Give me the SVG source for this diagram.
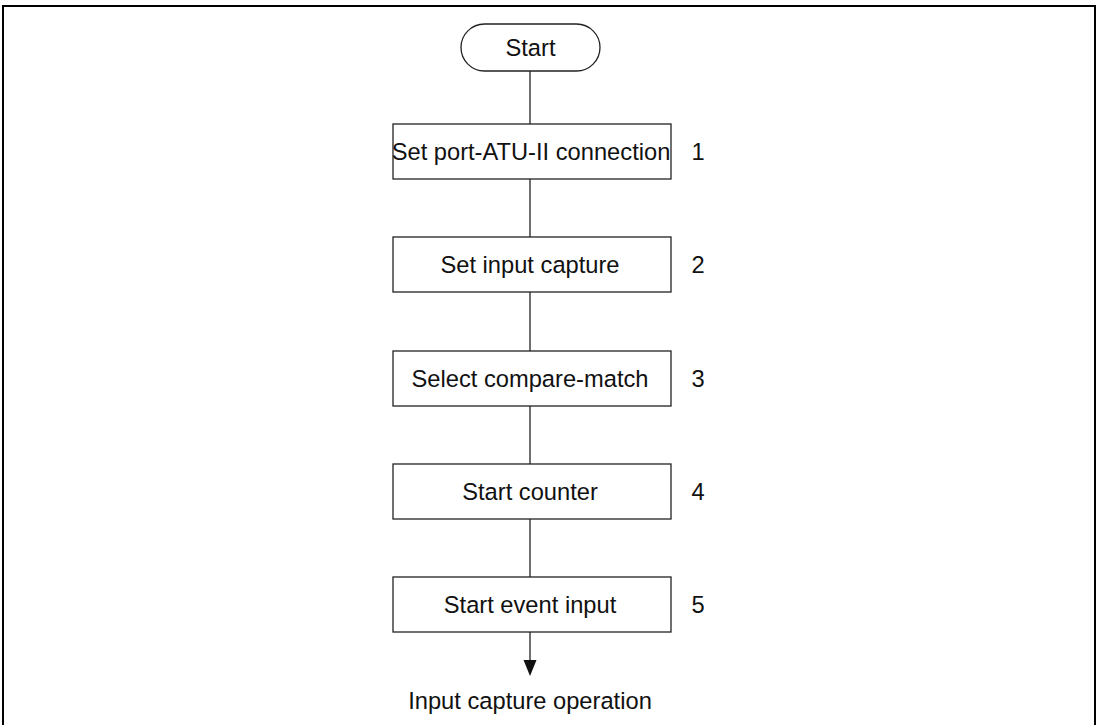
<svg xmlns="http://www.w3.org/2000/svg" width="1099" height="725" viewBox="0 0 1099 725">
<style>
.box{fill:#fff;stroke:#222;stroke-width:1.3}
.t{font-family:"Liberation Sans",Arial,sans-serif;font-size:23.7px;fill:#111;text-anchor:middle}
.c{stroke:#222;stroke-width:1.3;fill:none}
.ah{fill:#111}
</style>
<rect x="3" y="6" width="1092" height="740" fill="#fff" stroke="#000" stroke-width="2"/>
<g id="connectors">
<line class="c" x1="530" y1="71" x2="530" y2="124"/>
<line class="c" x1="530" y1="179" x2="530" y2="237"/>
<line class="c" x1="530" y1="292" x2="530" y2="351"/>
<line class="c" x1="530" y1="406" x2="530" y2="464"/>
<line class="c" x1="530" y1="519" x2="530" y2="577"/>
<line class="c" x1="530" y1="632" x2="530" y2="662"/>
<path class="ah" d="M523.5,660 L536.5,660 L530,676 Z"/>
</g>
<g id="start">
<rect class="box" x="461" y="24" width="139" height="47" rx="23.5" ry="23.5"/>
<text class="t" x="530.5" y="56">Start</text>
</g>
<g id="step1">
<rect class="box" x="393" y="124" width="278" height="55"/>
<text class="t" x="531" y="160">Set port-ATU-II connection</text>
<text class="t" x="698" y="160">1</text>
</g>
<g id="step2">
<rect class="box" x="393" y="237" width="278" height="55"/>
<text class="t" x="530" y="273">Set input capture</text>
<text class="t" x="698" y="273">2</text>
</g>
<g id="step3">
<rect class="box" x="393" y="351" width="278" height="55"/>
<text class="t" x="530" y="387">Select compare-match</text>
<text class="t" x="698" y="387">3</text>
</g>
<g id="step4">
<rect class="box" x="393" y="464" width="278" height="55"/>
<text class="t" x="530" y="500">Start counter</text>
<text class="t" x="698" y="500">4</text>
</g>
<g id="step5">
<rect class="box" x="393" y="577" width="278" height="55"/>
<text class="t" x="530" y="613">Start event input</text>
<text class="t" x="698" y="613">5</text>
</g>
<g id="end">
<text class="t" x="530" y="709">Input capture operation</text>
</g>
</svg>
